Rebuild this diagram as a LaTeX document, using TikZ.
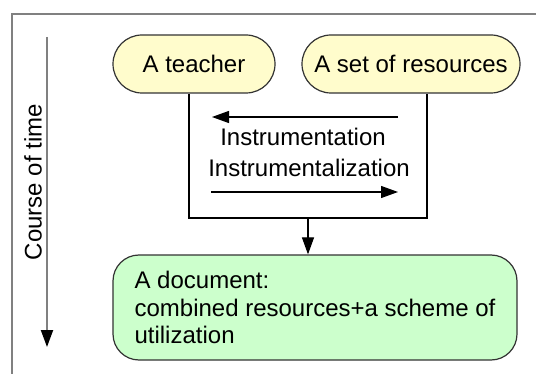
\documentclass[tikz,border=0pt]{standalone}
\usepackage{fontspec}
\setmainfont{Liberation Sans}
\usetikzlibrary{arrows.meta,positioning}

\tikzset{
  actor/.style={draw=black!80, fill=yellow!20, line width=0.6pt, rounded corners=14.5pt,
    minimum height=29pt, inner sep=0pt},
  result/.style={draw=black!80, fill=green!20, line width=0.6pt, rounded corners=13pt,
    minimum width=202pt, minimum height=52.5pt, inner xsep=7.5pt, align=left},
  tip/.style={-{Triangle[length=8.5pt,width=6pt,color=black]}},
  grayline/.style={black!50, line width=1pt},
}

\begin{document}
\begin{tikzpicture}[x=0.5pt,y=-0.5pt,line width=0.6pt,font=\fontsize{12}{13.75}\selectfont]
    \useasboundingbox (0,0) rectangle (536,374);
    % frame
    \draw[grayline] (536,14) -- (12,14) -- (12,374);
    % time axis
    \coordinate (t0) at (47,37);
    \coordinate (t1) at (47,347);
    \draw[grayline,tip] (t0) -- (t1);
    \node[rotate=90] (time) at (33,182) {Course of time};
    % the two actors
    \node[actor, minimum width=81pt] (teacher) at (194,64) {A teacher};
    \node[actor, minimum width=109pt] (resources) at (411,64) {A set of resources};
    % the interaction box
    \coordinate (bl) at (189,218);
    \coordinate (br) at (427,218);
    \coordinate (bm) at (308,218);
    \draw (teacher.south -| bl) -- (bl) -- (br) -- (resources.south -| br);
    \node (instr) at (303,137) {Instrumentation};
    \node (instrz) at (309,168) {Instrumentalization};
    \coordinate (a0) at (398,117);
    \coordinate (a1) at (212,117);
    \coordinate (b0) at (211,192);
    \coordinate (b1) at (398,192);
    \draw[tip] (a0) -- (a1);
    \draw[tip] (b0) -- (b1);
    % outcome
    \node[result] (document) at (315,307.5) {A document:\\combined resources+a scheme of\\utilization};
    \draw[tip] (bm) -- (bm |- document.north);
\end{tikzpicture}
\end{document}
